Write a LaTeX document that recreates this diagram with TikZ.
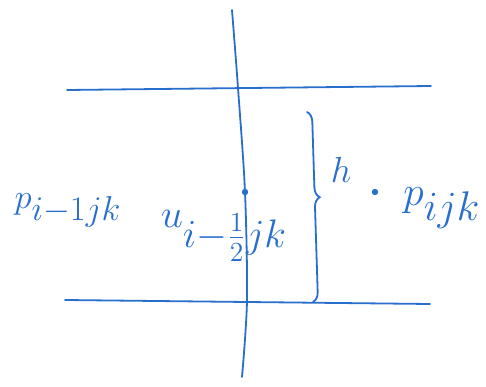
\documentclass[tikz,border=0pt]{standalone}
\usepackage{amsmath}
\usetikzlibrary{decorations.pathreplacing}
\definecolor{ink}{RGB}{40,110,205}
\newcommand{\bigsub}[1]{_{\textstyle #1}}
\begin{document}
\begin{tikzpicture}[x=1pt,y=-1pt,
  inkline/.style={draw=ink,line width=1.8pt,line cap=round},
  lbl/.style={text=ink,inner sep=0pt,font=\LARGE}]
\useasboundingbox (0,0) rectangle (486,387);
\coordinate (t1) at (67,90); \coordinate (t2) at (431,86);
\coordinate (b1) at (65,300); \coordinate (b2) at (430,304);
\draw[inkline] (t1) -- (t2);
\draw[inkline] (b1) -- (b2);
\draw[inkline] plot[smooth,tension=0.5] coordinates {(232,10) (238,88) (245,192) (247,300) (242,377)};
\fill[ink] (245,192) circle (3.2pt);
\coordinate (br1) at (307,112); \coordinate (br2) at (313,302);
\draw[inkline,decorate,decoration={brace,amplitude=10pt,aspect=0.45}] (br1) -- (br2);
\node[lbl] (h) at (341,170) {\scalebox{2.1}{$h$}};
\fill[ink] (375,192) circle (3.2pt);
\node[lbl] (pr) at (442,208) {\scalebox{2.4}{$p\bigsub{ijk}$}};
\node[lbl] (pl) at (68,210) {\scalebox{2.0}{$p\bigsub{i{-}1jk}$}};
\node[lbl] (u) at (224,236) {\scalebox{2.3}{$u\bigsub{i{-}\frac{1}{2}jk}$}};
\end{tikzpicture}
\end{document}
